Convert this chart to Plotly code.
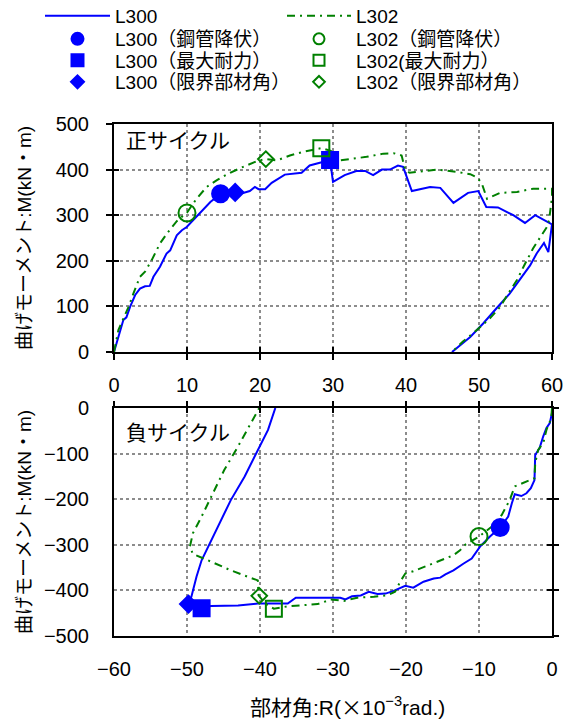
import plotly.graph_objects as go

# ---- 正サイクル (positive cycle) ----
pos_R_L300 = [0, 0.6, 1.28, 1.7, 2.2, 2.9, 3.56, 4.25, 4.9, 5.4, 6.3, 7.2, 7.7, 8.6, 9.3, 9.96,
              10.6, 11.8, 13.2, 14.6, 15.9, 17.0, 17.7, 18.6, 19.3, 19.8, 20.7, 21.6, 23.4, 25.7,
              26.8, 28.5, 29.6, 30.0, 31.6, 33.2, 34.4, 35.5, 36.7, 37.8, 38.9, 39.6, 40.8, 43.3,
              44.7, 46.5, 48.5, 49.9, 51.0, 52.6, 54.7, 56.3, 57.7, 60.0, 59.5, 58.9, 57.9, 57.0,
              55.6, 54.2, 52.4, 50.6, 48.8, 46.3]
pos_M_L300 = [0, 34, 70, 76, 99, 125, 139, 144, 145, 165, 187, 216, 223, 256, 267, 274,
              285, 304, 329, 347, 349, 351, 349, 353, 362, 357, 357, 371, 389, 393,
              409, 417, 421, 373, 388, 397, 397, 388, 400, 400, 409, 406, 353, 362,
              360, 327, 349, 353, 318, 317, 300, 283, 300, 280, 219, 239, 216, 190,
              158, 128, 96, 63, 33, 0]

pos_R_L302 = [0, 0.6, 1.3, 2.0, 2.65, 3.55, 4.25, 5.15, 6.3, 7.4, 8.6, 10.0, 11.3, 12.7, 14.1,
              15.9, 17.7, 19.8, 20.8, 22.3, 24.1, 25.9, 28.4, 29.7, 30.9, 32.5, 34.6, 36.9, 38.3,
              39.4, 39.9, 40.5, 44.2, 46.9, 48.8, 49.8, 50.4, 51.1, 52.9, 55.2, 57.4, 60.0, 60.0,
              59.6, 59.3, 58.4, 57.4, 56.1, 55.2, 54.0, 52.9, 51.5, 49.7, 47.8, 46.3]
pos_M_L302 = [0, 48, 74, 99, 128, 165, 176, 201, 238, 263, 287, 306, 336, 362, 377,
              393, 406, 420, 423, 420, 431, 439, 447, 441, 420, 423, 428, 435, 436,
              431, 399, 393, 400, 395, 390, 382, 369, 336, 349, 351, 358, 358, 340,
              289, 274, 252, 227, 187, 158, 128, 99, 74, 48, 23, 0]

# ---- 負サイクル (negative cycle) ----
neg_R_L300 = [0, 0, -0.3, -0.76, -1.2, -1.7, -2.3, -2.4, -2.9, -3.5, -4.2, -5.1, -5.5, -6.0,
              -7.1, -8.5, -9.86, -11.0, -12.1, -13.5, -14.6, -15.3, -16.2, -17.6, -19.0, -20.1,
              -21.7, -22.8, -23.9, -25.1, -26.2, -27.4, -28.3, -29.0, -32.6, -35.1, -36.2, -37.1,
              -40.3, -43.0, -46.7, -48.0, -49.8, -49.4, -48.7, -48.0, -47.1, -45.8, -44.0, -42.1,
              -40.3, -38.9, -37.9]
neg_M_L300 = [0, -11, -33, -44, -62, -88, -103, -158, -176, -187, -193, -189, -209, -238,
              -262, -282, -304, -330, -341, -356, -365, -372, -374, -381, -394, -390,
              -401, -407, -408, -403, -411, -413, -420, -416, -416, -416, -429, -429,
              -429, -433, -434, -437, -430, -414, -370, -334, -304, -260, -202, -150,
              -92, -48, 0]

neg_R_L302 = [0, -0.1, -0.76, -1.2, -1.9, -2.3, -2.4, -3.0, -4.2, -5.1, -5.8, -6.9, -8.0, -10.0,
              -11.9, -12.6, -13.5, -15.3, -17.1, -19.0, -20.1, -20.8, -21.5, -22.6, -24.4, -26.7,
              -28.5, -30.3, -32.1, -34.4, -36.2, -38.1, -39.2, -40.2, -40.2, -40.3, -41.7, -44.0,
              -46.7, -49.2, -49.6, -49.2, -48.0, -46.7, -44.9, -43.0, -41.2, -40.1]
neg_M_L302 = [0, -22, -48, -77, -92, -121, -154, -158, -165, -172, -202, -235, -257, -282,
              -300, -312, -323, -335, -347, -358, -363, -381, -403, -411, -414, -416,
              -423, -420, -430, -433, -435, -440, -430, -411, -392, -378, -370, -356,
              -337, -320, -304, -275, -238, -194, -136, -84, -33, 0]

# ---- 特性点 [正, 負] ----
yield_R_L300, yield_M_L300 = [14.6, -7.1], [347, -262]
peak_R_L300, peak_M_L300 = [29.6, -48.0], [421, -439]
limit_R_L300, limit_M_L300 = [16.6, -49.8], [350, -430]
yield_R_L302, yield_M_L302 = [10.0, -10.0], [305, -282]
peak_R_L302, peak_M_L302 = [28.4, -38.1], [447, -440]
limit_R_L302, limit_M_L302 = [20.8, -40.1], [423, -412]

BLUE = "#0000FF"
GREEN = "#008000"
FONT = "Liberation Sans, Noto Sans CJK JP, sans-serif"
CJK = "Noto Sans CJK JP"

W, H = 568, 722
ML, MR, MT, MB = 114, 16, 124, 86
PW, PH = W - ML - MR, H - MT - MB


def px_x(p):
    return (p - ML) / PW


def px_y(p):
    return (H - MB - p) / PH


fig = go.Figure()

subplots = [("x", "y", 0), ("x2", "y2", 1)]
curves = [
    ("L300", BLUE, "solid", (pos_R_L300, pos_M_L300), (neg_R_L300, neg_M_L300)),
    ("L302", GREEN, "8px,5px,2px,5px", (pos_R_L302, pos_M_L302), (neg_R_L302, neg_M_L302)),
]
for name, color, dash, pdat, ndat in curves:
    for (xa, ya, k), (xs, ys) in zip(subplots, [pdat, ndat]):
        fig.add_trace(go.Scatter(
            x=xs, y=ys, mode="lines", name=name, showlegend=False,
            line=dict(color=color, width=2, dash=dash),
            xaxis=xa, yaxis=ya, cliponaxis=False))

points = [
    ("L300（鋼管降伏）", "circle", BLUE, 17, 12, yield_R_L300, yield_M_L300),
    ("L300（最大耐力）", "square", BLUE, 16, 12, peak_R_L300, peak_M_L300),
    ("L300（限界部材角）", "diamond", BLUE, 13, 10, limit_R_L300, limit_M_L300),
    ("L302（鋼管降伏）", "circle-open", GREEN, 17, 11, yield_R_L302, yield_M_L302),
    ("L302(最大耐力）", "square-open", GREEN, 16, 11, peak_R_L302, peak_M_L302),
    ("L302（限界部材角）", "diamond-open", GREEN, 12, 9, limit_R_L302, limit_M_L302),
]
for name, sym, color, size, _, rs, ms in points:
    for xa, ya, k in subplots:
        fig.add_trace(go.Scatter(
            x=[rs[k]], y=[ms[k]], mode="markers", name=name, showlegend=False,
            marker=dict(symbol=sym, size=size, color=color, line=dict(color=color, width=2)),
            xaxis=xa, yaxis=ya, cliponaxis=False))

# legend entries: one legend per row/column so the rows sit where they should
leg_rows = [16, 39, 60.5, 82]
leg_cols = [(40, 65), (282, 64)]
entries = [
    [("L300", dict(mode="lines", line=dict(color=BLUE, width=2)))]
    + [(p[0], dict(mode="markers", marker=dict(symbol=p[1], size=p[4], color=p[2],
                                               line=dict(color=p[2], width=2))))
       for p in points[:3]],
    [("L302", dict(mode="lines", line=dict(color=GREEN, width=2, dash="8px,5px,2px,5px")))]
    + [(p[0], dict(mode="markers", marker=dict(symbol=p[1], size=p[4], color=p[2],
                                               line=dict(color=p[2], width=2))))
       for p in points[3:]],
]
legend_layout = {}
n = 0
for c, col in enumerate(entries):
    lx, iw = leg_cols[c]
    for r, (name, style) in enumerate(col):
        n += 1
        lid = "legend" if n == 1 else f"legend{n}"
        fig.add_trace(go.Scatter(x=[None], y=[None], name=name, legend=lid,
                                 showlegend=True, hoverinfo="skip", **style))
        legend_layout[lid] = dict(
            x=px_x(lx), y=px_y(leg_rows[r]), xanchor="left", yanchor="middle",
            itemwidth=iw, bgcolor="rgba(0,0,0,0)", borderwidth=0,
            font=dict(family=FONT, size=19, color="black"))

# empty traces that carry the tick-only overlay axes
for xa, ya in [("x3", "y3"), ("x4", "y4"), ("x5", "y5")]:
    fig.add_trace(go.Scatter(x=[], y=[], xaxis=xa, yaxis=ya, showlegend=False,
                             hoverinfo="skip"))

grid = dict(showgrid=True, gridcolor="#8c8c8c", griddash="dot", gridwidth=1.5, zeroline=False)
frame = dict(showline=True, mirror=True, linecolor="black", linewidth=2)
tickfont = dict(family=FONT, size=20, color="black")
tick_out = dict(ticklen=6, tickwidth=1.5, tickcolor="black")
tick_in = dict(ticklen=5, tickwidth=1.5, tickcolor="black")
bare = dict(showticklabels=False, showgrid=False, zeroline=False, showline=False)

top_dom = [px_y(352), 1.0]
bot_dom = [0.0, px_y(408)]

fig.update_layout(
    width=W, height=H,
    margin=dict(l=ML, r=MR, t=MT, b=MB, autoexpand=False),
    paper_bgcolor="white", plot_bgcolor="white",
    font=dict(family=FONT, color="black"),
    # 正サイクル
    xaxis=dict(domain=[0, 1], anchor="y", range=[0, 60], dtick=10, ticks="outside",
               ticklabelstandoff=8, tickfont=tickfont, **tick_out, **grid, **frame),
    yaxis=dict(domain=top_dom, anchor="x", range=[0, 500], dtick=100, ticks="outside",
               ticklabelstandoff=13, tickfont=tickfont, **tick_out, **grid, **frame),
    xaxis3=dict(overlaying="x", anchor="y3", side="bottom", range=[0, 60], dtick=10,
                ticks="inside", **tick_in, **bare),
    yaxis3=dict(overlaying="y", anchor="x3", side="left", range=[0, 500], dtick=100,
                ticks="inside", **tick_in, **bare),
    # 負サイクル
    xaxis2=dict(domain=[0, 1], anchor="y2", range=[-60, 0], dtick=10, ticks="",
                ticklabelstandoff=14, tickfont=tickfont, **grid, **frame),
    yaxis2=dict(domain=bot_dom, anchor="x2", range=[-500, 0], dtick=100, ticks="",
                ticklabelstandoff=19, tickfont=tickfont, **grid, **frame),
    xaxis4=dict(overlaying="x2", anchor="y4", side="top", range=[-60, 0], dtick=10,
                ticks="outside", **tick_out, **bare),
    yaxis4=dict(overlaying="y2", anchor="x4", side="right", range=[-500, 0], dtick=100,
                ticks="outside", **tick_out, **bare),
    xaxis5=dict(overlaying="x2", anchor="y5", side="top", range=[-60, 0], dtick=10,
                ticks="inside", **tick_in, **bare),
    yaxis5=dict(overlaying="y2", anchor="x5", side="right", range=[-500, 0], dtick=100,
                ticks="inside", **tick_in, **bare),
    **legend_layout,
)

ytitle = "曲げモーメント:M(kN<span style=\"font-family:'%s'\">・</span>m)" % CJK
ann_font = dict(family=FONT, size=19, color="black")
for yc in (238, 522):
    fig.add_annotation(text=ytitle, xref="paper", yref="paper", x=px_x(22), y=px_y(yc),
                       xanchor="center", yanchor="middle", textangle=-90,
                       showarrow=False, font=ann_font)
xtitle = ("部材角:R(<span style=\"font-family:'%s'\">×</span>10<sup>−3</sup>rad.)" % CJK)
fig.add_annotation(text=xtitle, xref="paper", yref="paper", x=px_x(347), y=px_y(706),
                   xanchor="center", yanchor="middle", showarrow=False,
                   font=dict(family=FONT, size=21, color="black"))
for label, yc in (("正サイクル", 140), ("負サイクル", 432)):
    fig.add_annotation(text=label, xref="paper", yref="paper", x=px_x(124), y=px_y(yc),
                       xanchor="left", yanchor="middle", showarrow=False,
                       font=dict(family=FONT, size=21, color="black"))

fig.write_html("out.html")
